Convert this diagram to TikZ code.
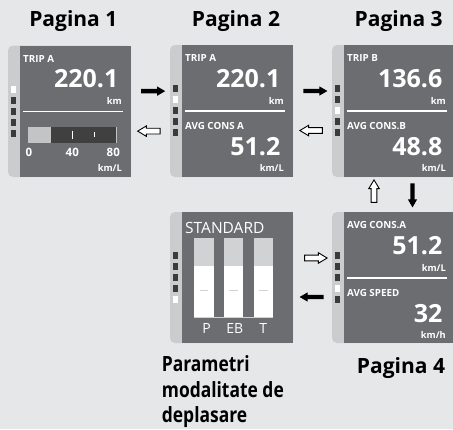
\documentclass[tikz,border=0pt]{standalone}
\usepackage{fontspec}
\setmainfont{Open Sans}
\newfontfamily\condfont[FakeStretch=0.83]{Open Sans}
\usetikzlibrary{calc,shapes.arrows}
\definecolor{bgc}{HTML}{E6E7E8}
\definecolor{panelc}{HTML}{6C6D70}
\definecolor{stripc}{HTML}{CBCCCE}
\definecolor{sqc}{HTML}{3B3B3C}
\definecolor{bardark}{HTML}{404041}
\definecolor{barlight}{HTML}{C3C4C6}
\definecolor{stdgray}{HTML}{D1D2D4}
\tikzset{
  stripbox/.style={fill=stripc, rounded corners=5pt, inner sep=0pt, outer sep=0pt, anchor=north west, minimum width=123pt},
  screenbox/.style={fill=panelc, inner sep=0pt, outer sep=0pt, anchor=north east, minimum width=111.5pt},
  lbl/.style={text=white, inner sep=0pt, anchor=base west, font=\bfseries\fontsize{9.8}{10}\selectfont},
  big/.style={text=white, inner sep=0pt, anchor=base east, font=\bfseries\fontsize{25}{25}\selectfont},
  unit/.style={text=white, inner sep=0pt, anchor=base east, font=\bfseries\fontsize{9.3}{10}\selectfont},
  ticklbl/.style={text=white, inner sep=0pt, anchor=base, font=\bfseries\fontsize{11.5}{12}\selectfont},
  sepline/.style={draw=white, line width=1.6pt},
  title/.style={inner sep=0pt, anchor=base, font=\bfseries\fontsize{21}{21}\selectfont},
  subtitle/.style={inner sep=0pt, anchor=base west, font=\condfont\bfseries\fontsize{21}{21}\selectfont},
  barrow/.style={single arrow, fill=black, inner xsep=0pt, inner ysep=2pt, outer sep=0pt,
     single arrow head extend=2.5pt, single arrow tip angle=60, minimum height=24pt},
  warrow/.style={single arrow, draw=black, fill=white, line width=0.9pt, inner xsep=0pt, inner ysep=2.4pt, outer sep=0pt,
     single arrow head extend=2.4pt, single arrow tip angle=62, minimum height=22.5pt},
  stdbar/.style={fill=white},
  stdtop/.style={fill=stdgray},
  stdlbl/.style={text=white, inner sep=0pt, anchor=base, font=\fontsize{14}{14}\selectfont},
}
% panel: name, x, top, height, active square
\newcommand\devpanel[5]{%
  \node[stripbox, minimum height=#4pt] (#1) at (#2,#3) {};
  \node[screenbox, minimum height=#4pt] (#1s) at (#1.north east) {};
  \foreach \k in {1,...,5}{%
    \ifnum\k=#5 \def\sqcol{white}\else\def\sqcol{sqc}\fi
    \fill[\sqcol] ($(#1.north west)+(3,29+11*\k)$) rectangle ++(5,7);
  }%
}
\newcommand\topval[4]{% screen, label, value, unit
  \node[lbl] (#1la) at ($(#1.north west)+(3.5,16.5)$) {#2};
  \node[big] (#1va) at ($(#1.north east)+(-12.5,42)$) {#3};
  \node[unit] (#1ua) at ($(#1.north east)+(-9,59)$) {#4};
  \draw[sepline] ($(#1.north west)+(3.5,66)$) -- ($(#1.north east)+(-8,66)$);
}
\newcommand\botval[4]{% screen, label, value, unit
  \node[lbl] (#1lb) at ($(#1.north west)+(3.5,84)$) {#2};
  \node[big] (#1vb) at ($(#1.north east)+(-12.5,110)$) {#3};
  \node[unit] (#1ub) at ($(#1.north east)+(-9,126)$) {#4};
}
\begin{document}
\begin{tikzpicture}[x=1pt,y=-1pt]
\useasboundingbox[fill=bgc] (0,0) rectangle (453,429);

% titles
\node[title] (t1) at (73.3,26) {Pagina 1};
\node[title] (t2) at (236,26) {Pagina 2};
\node[title] (t3) at (398.7,26) {Pagina 3};
\node[title] (t4) at (401,373) {Pagina 4};
\node[subtitle] (t5a) at (161.7,371.7) {Parametri};
\node[subtitle] (t5b) at (161.7,397.3) {modalitate de};
\node[subtitle] (t5c) at (161.7,422.7) {deplasare};

% panels
\devpanel{p1}{8}{45.5}{131.5}{1}
\devpanel{p2}{170}{45}{132}{2}
\devpanel{p3}{332}{45}{132}{3}
\devpanel{p4}{332}{212}{131}{4}
\devpanel{p5}{170}{212}{131}{5}

% panel 1
\topval{p1s}{TRIP A}{220.1}{km}
\fill[bardark] ($(p1s.north west)+(8.3,81.8)$) rectangle ($(p1s.north west)+(97.7,97.8)$);
\fill[barlight] ($(p1s.north west)+(8.3,81.8)$) rectangle ($(p1s.north west)+(31,97.8)$);
\draw[barlight, line width=0.8pt] ($(p1s.north west)+(97.3,81.8)$) -- ($(p1s.north west)+(97.3,97.8)$);
\draw[white, line width=1.3pt] ($(p1s.north west)+(53.3,85.2)$) -- ($(p1s.north west)+(53.3,93.5)$);
\draw[white, line width=1.3pt] ($(p1s.north west)+(75,86.8)$) -- ($(p1s.north west)+(75,91.8)$);
\node[ticklbl] (s0) at ($(p1s.north west)+(9.5,111.2)$) {0};
\node[ticklbl] (s40) at ($(p1s.north west)+(52.8,111.2)$) {40};
\node[ticklbl] (s80) at ($(p1s.north west)+(93.8,111.2)$) {80};
\node[unit] (p1ub) at ($(p1s.north east)+(-9,126)$) {km/L};

% panel 2
\topval{p2s}{TRIP A}{220.1}{km}
\botval{p2s}{AVG CONS A}{51.2}{km/L}

% panel 3
\topval{p3s}{TRIP B}{136.6}{km}
\botval{p3s}{AVG CONS.B}{48.8}{km/L}

% panel 4
\topval{p4s}{AVG CONS.A}{51.2}{km/L}
\botval{p4s}{AVG SPEED}{32}{km/h}

% panel 5 (standard)
\node[text=white, inner sep=0pt, anchor=base west, font=\fontsize{15.5}{16}\selectfont] (std) at ($(p5s.north west)+(3.5,21.3)$) {STANDARD};
\foreach \bx/\nm/\lx in {12.5/P/25.2, 42/EB/53.2, 72/T/81.8}{%
  \fill[stdtop] ($(p5s.north west)+(\bx,26.3)$) rectangle ($(p5s.north west)+(\bx+19.8,54)$);
  \fill[stdbar] ($(p5s.north west)+(\bx,54)$) rectangle ($(p5s.north west)+(\bx+19.8,104.7)$);
  \draw[stdgray, line width=1pt] ($(p5s.north west)+(\bx+5.6,78.7)$) -- ($(p5s.north west)+(\bx+14.2,78.7)$);
  \node[stdlbl] (lab\nm) at ($(p5s.north west)+(\lx,121.3)$) {\nm};
}
\fill[stdgray] ($(p5s.north west)+(12.5,104.7)$) rectangle ($(p5s.north west)+(91.8,106.3)$);

% arrows
\node[barrow] (a12) at ($(p1.east)!.5!(p2.west)+(0.8,-20)$) {};
\node[warrow, rotate=180] (a21) at ($(p1.east)!.5!(p2.west)+(0.8,20)$) {};
\node[barrow] (a23) at ($(p2.east)!.5!(p3.west)+(1,-20)$) {};
\node[warrow, rotate=180] (a32) at ($(p2.east)!.5!(p3.west)+(1,19.5)$) {};
\node[warrow, rotate=90] (a43) at ($(p3.south)!.5!(p4.north)+(-19.5,-1)$) {};
\node[barrow, rotate=-90] (a34) at ($(p3.south)!.5!(p4.north)+(19,-1)$) {};
\node[warrow] (a54) at ($(p5.east)!.5!(p4.west)+(1,-19.5)$) {};
\node[barrow, rotate=180] (a45) at ($(p5.east)!.5!(p4.west)+(1,19.5)$) {};
\end{tikzpicture}
\end{document}
